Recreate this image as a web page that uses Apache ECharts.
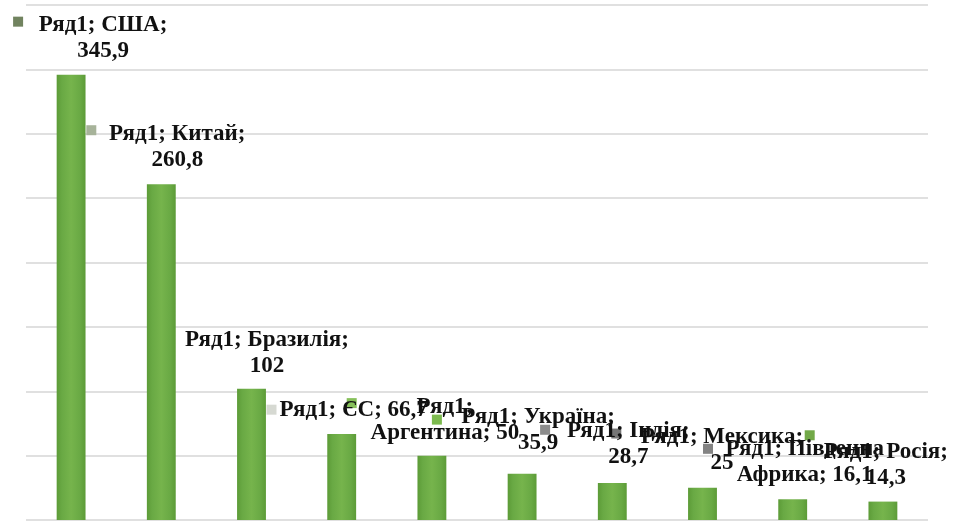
<!DOCTYPE html>
<html>
<head>
<meta charset="utf-8">
<script src="https://cdn.jsdelivr.net/npm/echarts@6/dist/echarts.min.js"></script>
<style>
  html, body { margin: 0; padding: 0; background: #ffffff; }
  #chart { width: 955px; height: 522px; }
</style>
</head>
<body>
<div id="chart"></div>
<script>
// Series and categories
const seriesName = 'Ряд1';
const countries = ['США', 'Китай', 'Бразилія', 'ЄС', 'Аргентина', 'Україна', 'Індія', 'Мексика', 'Південна Африка', 'Росія'];
const values = [345.9, 260.8, 102, 66.7, 50, 35.9, 28.7, 25, 16.1, 14.3];

// Value axis scale
const axisMin = 0;
const axisMax = 400;
const axisStep = 50;

// Data label layout: words on the first line, and shift from the bar top
const labelBreakAfter = [2, 2, 2, 0, 1, 2, 2, 2, 2, 2];
const labelOffsets = [[32, -11], [16, -11], [15.5, -10], [12, -11.5], [13, -10], [16, -18], [16, -12.5], [19.5, -12], [12, -11], [3, -11]];

// Legend keys that accompany each data label
const keyOffsets = [[-53, -48], [-70, -49], [20, 26], [10, -26], [5, -31], [23, -39], [4, -44.5], [5.5, -34], [17, -59], [-16, -47]];
const keyColors = ['#71835f', '#a7b39a', '#d6d9d2', '#86c05a', '#7cba4e', '#8c8c8c', '#767676', '#838383', '#72a948', '#3d3d3d'];

function labelText(i) {
  const valStr = String(values[i]).replace('.', ',');
  const words = (seriesName + '; ' + countries[i] + '; ' + valStr).split(' ');
  const k = labelBreakAfter[i];
  if (!k) return words.join(' ');
  return words.slice(0, k).join(' ') + '\n' + words.slice(k).join(' ');
}

const barFill = {
  type: 'linear', x: 0, y: 0, x2: 1, y2: 0,
  colorStops: [
    { offset: 0, color: '#5c9b37' },
    { offset: 0.18, color: '#69a944' },
    { offset: 0.5, color: '#76b44c' },
    { offset: 0.82, color: '#69a944' },
    { offset: 1, color: '#5c9b37' }
  ]
};

const chart = echarts.init(document.getElementById('chart'), null, { renderer: 'canvas' });

chart.setOption({
  animation: false,
  backgroundColor: '#ffffff',
  grid: { left: 26, right: 27, top: 5, bottom: 2, containLabel: false },
  xAxis: {
    type: 'category',
    data: countries,
    axisLine: { show: false },
    axisTick: { show: false },
    axisLabel: { show: false },
    splitLine: { show: false }
  },
  yAxis: {
    type: 'value',
    min: axisMin,
    max: axisMax,
    interval: axisStep,
    axisLine: { show: false },
    axisTick: { show: false },
    axisLabel: { show: false },
    splitLine: { show: true, lineStyle: { color: '#d6d6d6', width: 1.6 } }
  },
  series: [
    {
      name: seriesName,
      type: 'bar',
      z: 3,
      barWidth: '32%',
      itemStyle: { color: barFill },
      data: values.map((v, i) => ({
        value: v,
        label: { offset: labelOffsets[i] }
      })),
      label: {
        show: true,
        position: 'top',
        distance: 0,
        formatter: p => labelText(p.dataIndex),
        fontFamily: "'Liberation Serif', 'Times New Roman', serif",
        fontWeight: 'bold',
        fontSize: 23,
        lineHeight: 26,
        color: '#111111',
        align: 'center'
      }
    },
    {
      name: seriesName + ' keys',
      type: 'bar',
      z: 1,
      silent: true,
      barWidth: '32%',
      barGap: '-100%',
      itemStyle: { color: 'rgba(0,0,0,0)' },
      data: values.map((v, i) => ({
        value: v,
        label: {
          offset: keyOffsets[i],
          rich: { k: { width: 10, height: 10, backgroundColor: keyColors[i] } }
        }
      })),
      label: {
        show: true,
        position: 'top',
        distance: 0,
        formatter: '{k|}',
        rich: { k: { width: 10, height: 10 } }
      }
    }
  ]
});
</script>
</body>
</html>
